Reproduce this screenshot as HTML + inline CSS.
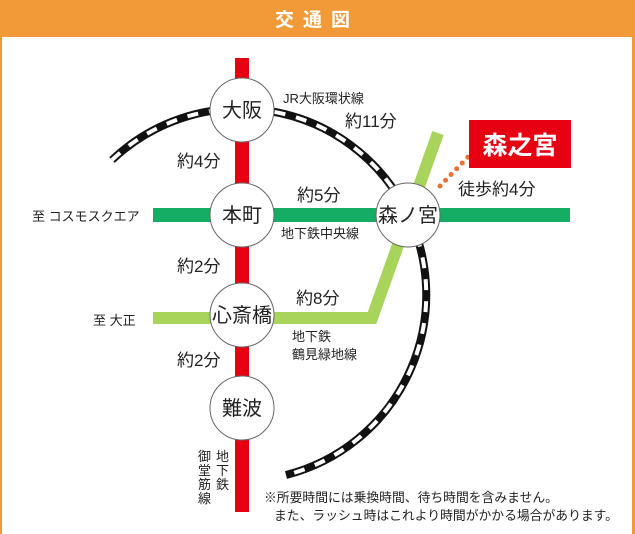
<!DOCTYPE html>
<html><head><meta charset="utf-8"><style>
body{margin:0;width:635px;height:534px;overflow:hidden;background:#fff}
svg{display:block}
text{font-family:"Liberation Sans","Noto Sans CJK JP",sans-serif;fill:#222}
</style></head><body>
<svg width="635" height="534" viewBox="0 0 635 534">
<rect x="0" y="0" width="635" height="534" fill="#f29a38"/>
<rect x="2" y="37" width="630" height="497" fill="#fff"/>
<text x="317" y="26" text-anchor="middle" font-size="19" style="fill:#fff;letter-spacing:9px" font-weight="bold">交通図</text>
<path d="M112,160 A186,186 0 1 1 286,475" fill="none" stroke="#111" stroke-width="8"/>
<path d="M112,160 A186,186 0 1 1 286,475" fill="none" stroke="#fff" stroke-width="4" stroke-dasharray="11 11"/>
<rect x="235" y="58" width="14" height="454" fill="#e60012"/>
<rect x="153" y="208" width="417" height="14" fill="#14ad63"/>
<polyline points="153,318 372,318 438,133" fill="none" stroke="#a9d45c" stroke-width="12"/>
<line x1="440" y1="186" x2="470" y2="155" stroke="#ec7030" stroke-width="5" stroke-linecap="round" stroke-dasharray="0 8"/>
<rect x="469" y="120" width="102" height="48" fill="#e60012"/>
<text x="520" y="154" text-anchor="middle" font-size="25" font-weight="bold" style="fill:#fff">森之宮</text>
<g fill="#fff" stroke="#666" stroke-width="1">
<circle cx="242" cy="110" r="32"/><circle cx="242" cy="215" r="32"/>
<circle cx="408" cy="215" r="32"/><circle cx="242" cy="315" r="32"/>
<circle cx="242" cy="408" r="32"/>
</g>
<g font-size="20" text-anchor="middle">
<text x="242" y="117">大阪</text><text x="242" y="222">本町</text>
<text x="408" y="222">森ノ宮</text><text x="242" y="322">心斎橋</text>
<text x="242" y="415">難波</text>
</g>
<g font-size="17">
<text x="177" y="167">約4分</text><text x="177" y="272">約2分</text>
<text x="177" y="366">約2分</text><text x="297" y="201">約5分</text>
<text x="296" y="304">約8分</text><text x="345" y="127">約11分</text>
<text x="458" y="195">徒歩約4分</text>
</g>
<g font-size="13">
<text x="283" y="103">JR大阪環状線</text>
<text x="281" y="238">地下鉄中央線</text>
<text x="292" y="341">地下鉄</text><text x="292" y="359">鶴見緑地線</text>
<text x="32" y="221">至 コスモスクエア</text>
<text x="93" y="325">至 大正</text>
<text x="216" y="461">地</text><text x="216" y="475">下</text><text x="216" y="489">鉄</text>
<text x="198" y="461">御</text><text x="198" y="475">堂</text><text x="198" y="489">筋</text><text x="198" y="503">線</text>
</g>
<g font-size="12.8">
<text x="264" y="502">※所要時間には乗換時間、待ち時間を含みません。</text>
<text x="274" y="520">また、ラッシュ時はこれより時間がかかる場合があります。</text>
</g>
</svg>
</body></html>
